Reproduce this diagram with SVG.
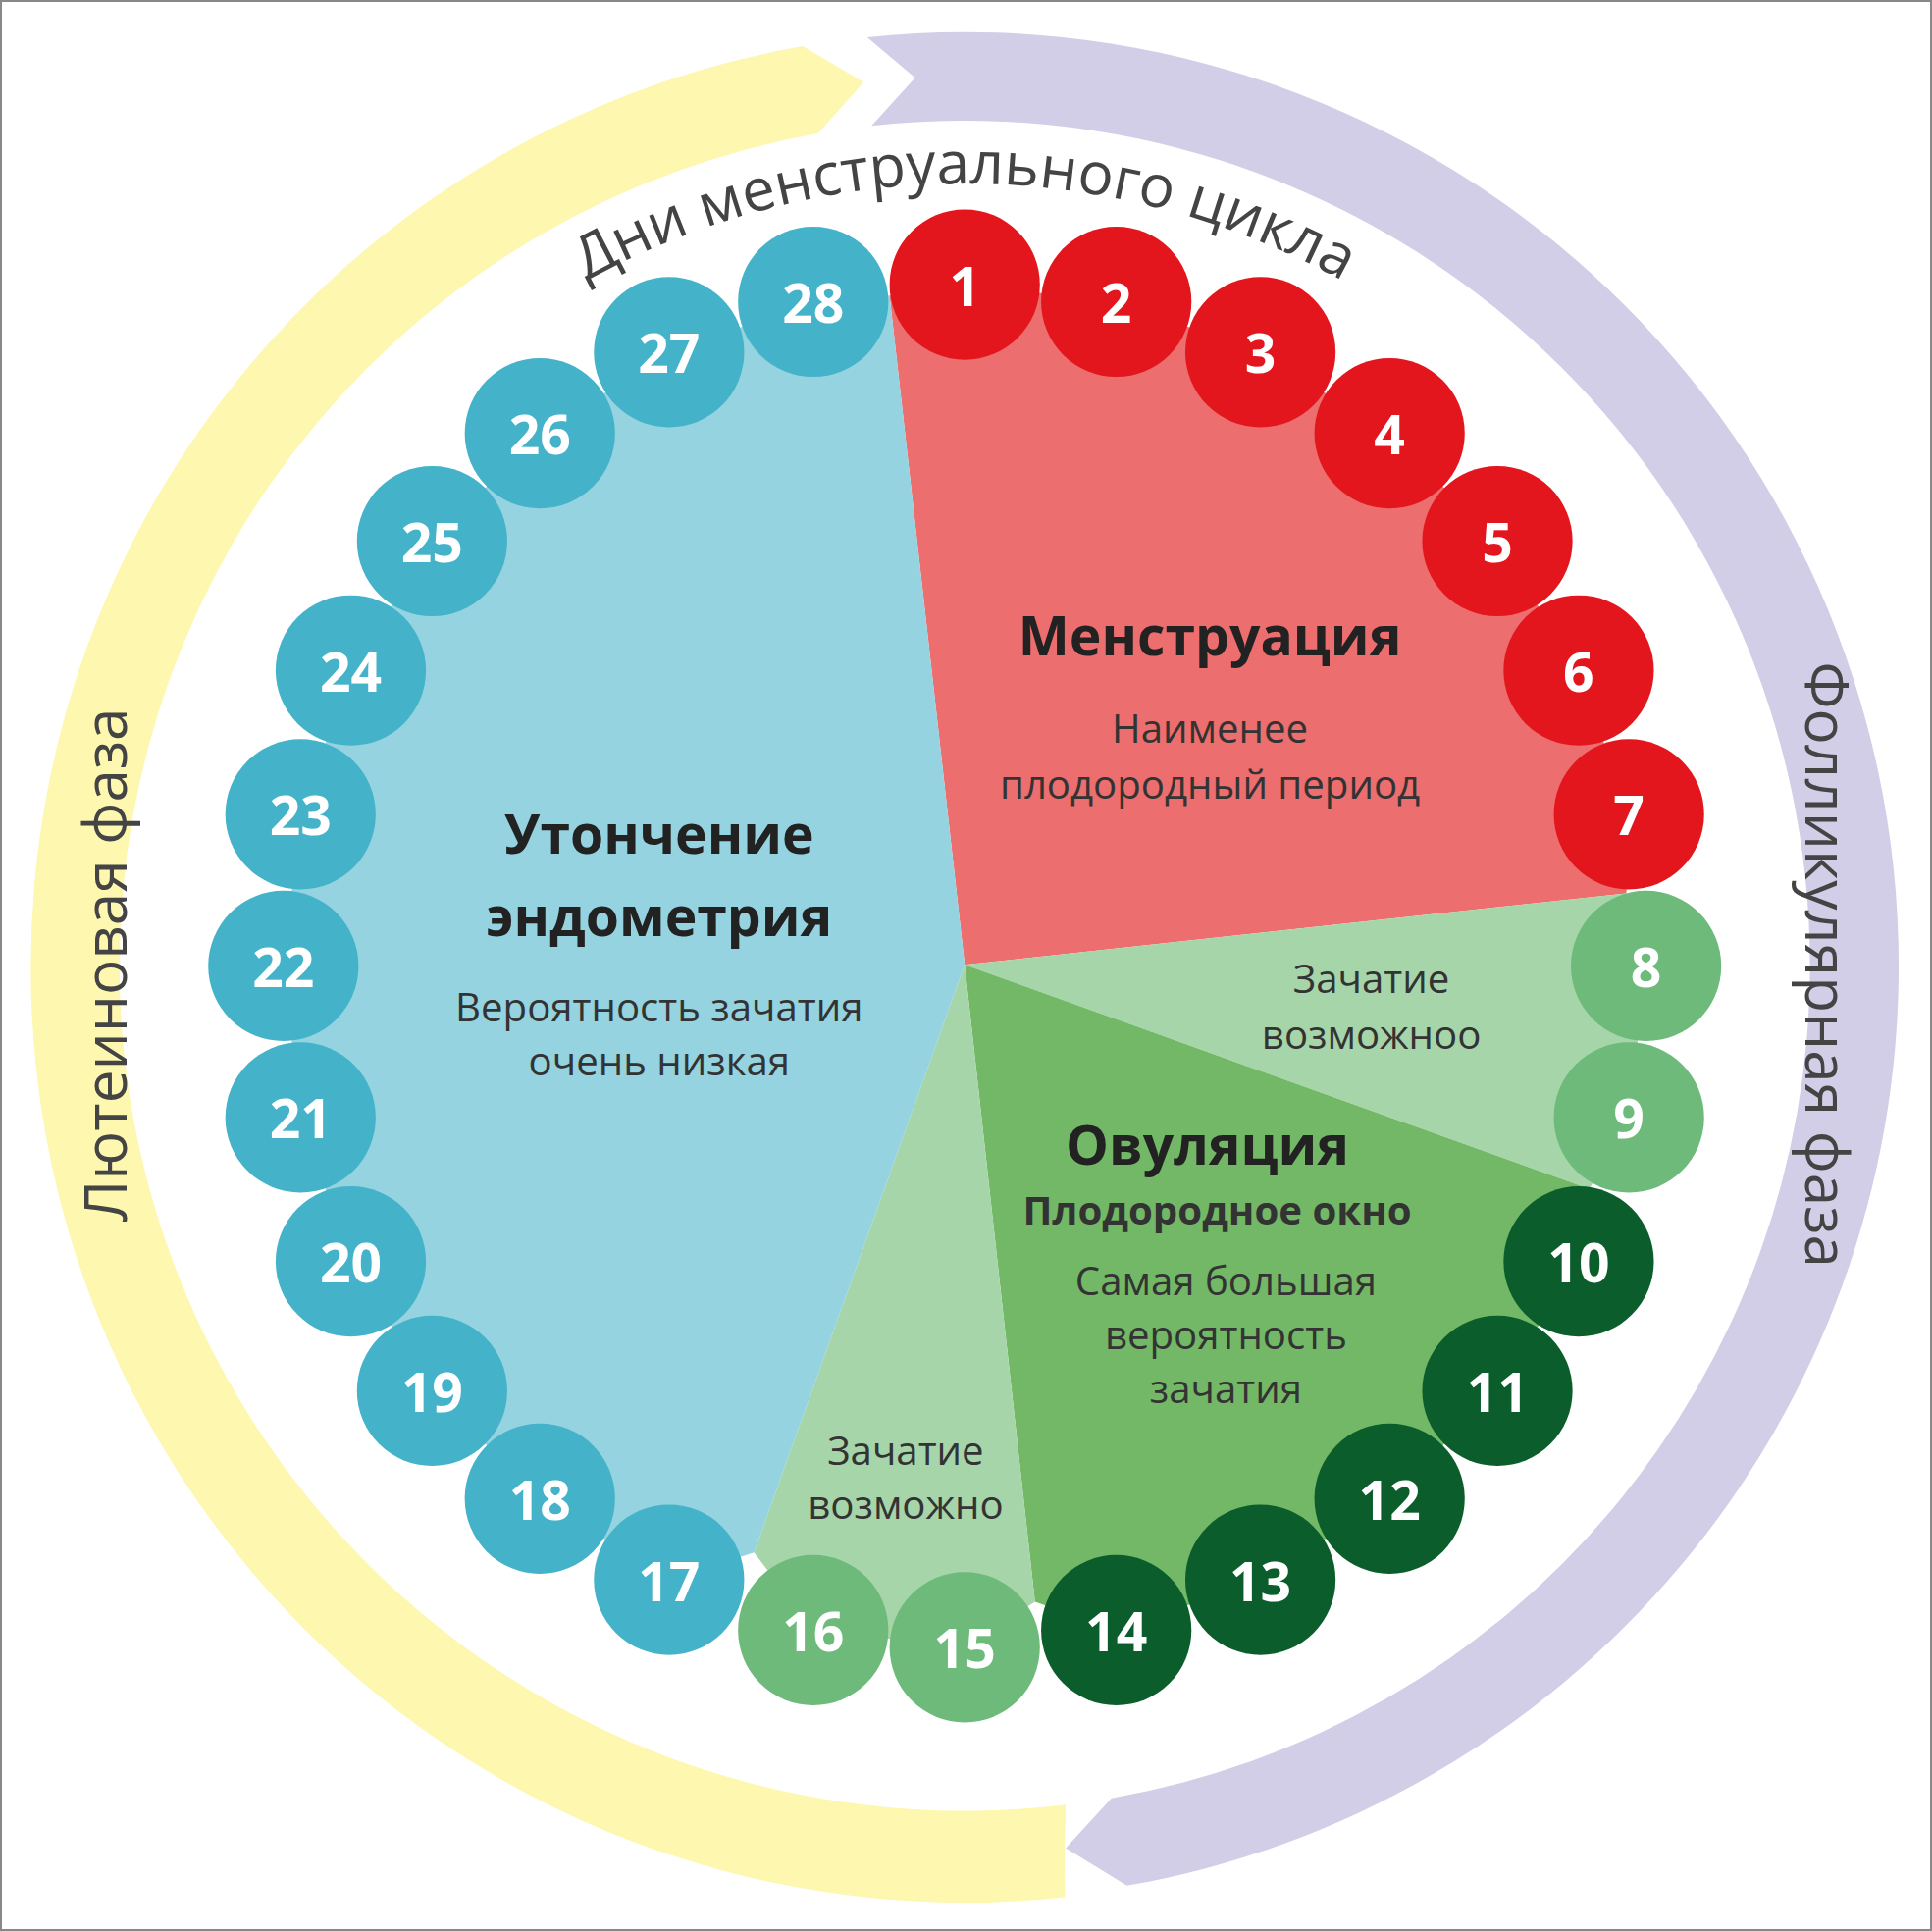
<svg xmlns="http://www.w3.org/2000/svg" width="1969" height="1968" viewBox="0 0 1969 1968">
<style>
.num{font-family:"Open Sans",sans-serif;font-weight:bold;font-size:44px;fill:#fff;text-anchor:middle;dominant-baseline:central}
.t{font-family:"Open Sans",sans-serif;fill:#333;text-anchor:middle;font-size:32px}
.b{font-family:"Open Sans",sans-serif;fill:#222;text-anchor:middle;font-weight:bold;font-size:44px}
.red{fill:#e3161d}.lg{fill:#6dba7a}.dg{fill:#0b5e2c}.bl{fill:#44b3c9}
.arc{font-family:"Open Sans",sans-serif;fill:#444;font-size:48px}
</style>
<defs><path id="topArc" d="M 148 784 A 635 635 0 0 1 1418 784"/></defs>
<rect x="1" y="1" width="1967" height="1966" fill="#fff" stroke="#888" stroke-width="2"/>
<g transform="scale(1.2557)">
<g id="phases">
<path id="yellow" fill="#fdf7b0" d="M 864.4 1539.8 A 758 758 0 0 1 25 784 A 758 758 0 0 1 651.4 37.5 L 701 66.6 L 663.9 108.4 A 686 686 0 0 0 97 784 A 686 686 0 0 0 865 1464.8 L 864 1505 Z"/>
<path id="purple" fill="#d2cee7" d="M 703.8 30.2 A 758 758 0 0 1 1541 784 A 758 758 0 0 1 914.6 1530.5 L 865 1500 L 902 1459.6 A 686 686 0 0 0 1469 784 A 686 686 0 0 0 707.3 102.2 L 742.7 63.1 Z"/>
<text class="arc" font-size="50" transform="translate(103,783) rotate(-90)" text-anchor="middle">Лютеиновая фаза</text>
<text class="arc" font-size="50" transform="translate(1465,783) rotate(90)" text-anchor="middle">Фолликулярная фаза</text>
<text class="arc" font-size="50"><textPath href="#topArc" startOffset="50%" text-anchor="middle">Дни менструального цикла</textPath></text>
</g>
<g id="wedges">
<polygon fill="#ec6e6e" points="783,783 722,240 783,231 906,244.9 1023,285.8 1127.8,351.7 1215.3,439.2 1281.3,544.1 1322.1,660.9 1320,725"/>
<polygon fill="#a6d5a9" points="783,783 1320,725 1336,784 1322.1,907 1290,965"/>
<polygon fill="#72b866" points="783,783 1290,965 1281.3,1023.9 1215.3,1128.8 1127.8,1216.3 1023,1282.2 906,1323.1 840,1300"/>
<polygon fill="#a6d5a9" points="783,783 840,1300 783,1337 660,1323.1 612,1260"/>
<polygon fill="#94d3df" points="783,783 612,1260 543,1282.2 438.2,1216.3 350.7,1128.8 284.7,1023.9 243.9,907 230,784 243.9,660.9 284.7,544.1 350.7,439.2 438.2,351.7 543,285.8 660,244.9 722,240"/>
</g>
<g id="labels">
<text class="b" x="982" y="532">Менструация</text>
<text class="t" x="982" y="603">Наименее</text>
<text class="t" x="982" y="648">плодородный период</text>
<text class="b" x="535" y="693">Утончение</text>
<text class="b" x="535" y="760">эндометрия</text>
<text class="t" x="535" y="829">Вероятность зачатия</text>
<text class="t" x="535" y="873">очень низкая</text>
<text class="t" x="1113" y="806">Зачатие</text>
<text class="t" x="1113" y="851">возможноо</text>
<text class="b" x="980" y="945">Овуляция</text>
<text class="t" x="988" y="994" font-weight="bold" fill="#222">Плодородное окно</text>
<text class="t" x="995" y="1051">Самая большая</text>
<text class="t" x="995" y="1095">вероятность</text>
<text class="t" x="995" y="1139">зачатия</text>
<text class="t" x="735" y="1189">Зачатие</text>
<text class="t" x="735" y="1233">возможно</text>
</g>
<g id="days">
<g id="d1"><circle class="red" cx="783" cy="231" r="61"/><text class="num" x="783" y="231">1</text></g>
<g id="d2"><circle class="red" cx="906" cy="244.9" r="61"/><text class="num" x="906" y="244.9">2</text></g>
<g id="d3"><circle class="red" cx="1023" cy="285.8" r="61"/><text class="num" x="1023" y="285.8">3</text></g>
<g id="d4"><circle class="red" cx="1127.8" cy="351.7" r="61"/><text class="num" x="1127.8" y="351.7">4</text></g>
<g id="d5"><circle class="red" cx="1215.3" cy="439.2" r="61"/><text class="num" x="1215.3" y="439.2">5</text></g>
<g id="d6"><circle class="red" cx="1281.3" cy="544.1" r="61"/><text class="num" x="1281.3" y="544.1">6</text></g>
<g id="d7"><circle class="red" cx="1322.1" cy="660.9" r="61"/><text class="num" x="1322.1" y="660.9">7</text></g>
<g id="d8"><circle class="lg" cx="1336" cy="784" r="61"/><text class="num" x="1336" y="784">8</text></g>
<g id="d9"><circle class="lg" cx="1322.1" cy="907" r="61"/><text class="num" x="1322.1" y="907">9</text></g>
<g id="d10"><circle class="dg" cx="1281.3" cy="1023.9" r="61"/><text class="num" x="1281.3" y="1023.9">10</text></g>
<g id="d11"><circle class="dg" cx="1215.3" cy="1128.8" r="61"/><text class="num" x="1215.3" y="1128.8">11</text></g>
<g id="d12"><circle class="dg" cx="1127.8" cy="1216.3" r="61"/><text class="num" x="1127.8" y="1216.3">12</text></g>
<g id="d13"><circle class="dg" cx="1023" cy="1282.2" r="61"/><text class="num" x="1023" y="1282.2">13</text></g>
<g id="d14"><circle class="dg" cx="906" cy="1323.1" r="61"/><text class="num" x="906" y="1323.1">14</text></g>
<g id="d15"><circle class="lg" cx="783" cy="1337" r="61"/><text class="num" x="783" y="1337">15</text></g>
<g id="d16"><circle class="lg" cx="660" cy="1323.1" r="61"/><text class="num" x="660" y="1323.1">16</text></g>
<g id="d17"><circle class="bl" cx="543" cy="1282.2" r="61"/><text class="num" x="543" y="1282.2">17</text></g>
<g id="d18"><circle class="bl" cx="438.2" cy="1216.3" r="61"/><text class="num" x="438.2" y="1216.3">18</text></g>
<g id="d19"><circle class="bl" cx="350.7" cy="1128.8" r="61"/><text class="num" x="350.7" y="1128.8">19</text></g>
<g id="d20"><circle class="bl" cx="284.7" cy="1023.9" r="61"/><text class="num" x="284.7" y="1023.9">20</text></g>
<g id="d21"><circle class="bl" cx="243.9" cy="907" r="61"/><text class="num" x="243.9" y="907">21</text></g>
<g id="d22"><circle class="bl" cx="230" cy="784" r="61"/><text class="num" x="230" y="784">22</text></g>
<g id="d23"><circle class="bl" cx="243.9" cy="660.9" r="61"/><text class="num" x="243.9" y="660.9">23</text></g>
<g id="d24"><circle class="bl" cx="284.7" cy="544.1" r="61"/><text class="num" x="284.7" y="544.1">24</text></g>
<g id="d25"><circle class="bl" cx="350.7" cy="439.2" r="61"/><text class="num" x="350.7" y="439.2">25</text></g>
<g id="d26"><circle class="bl" cx="438.2" cy="351.7" r="61"/><text class="num" x="438.2" y="351.7">26</text></g>
<g id="d27"><circle class="bl" cx="543" cy="285.8" r="61"/><text class="num" x="543" y="285.8">27</text></g>
<g id="d28"><circle class="bl" cx="660" cy="244.9" r="61"/><text class="num" x="660" y="244.9">28</text></g>
</g>
</g>
</svg>
